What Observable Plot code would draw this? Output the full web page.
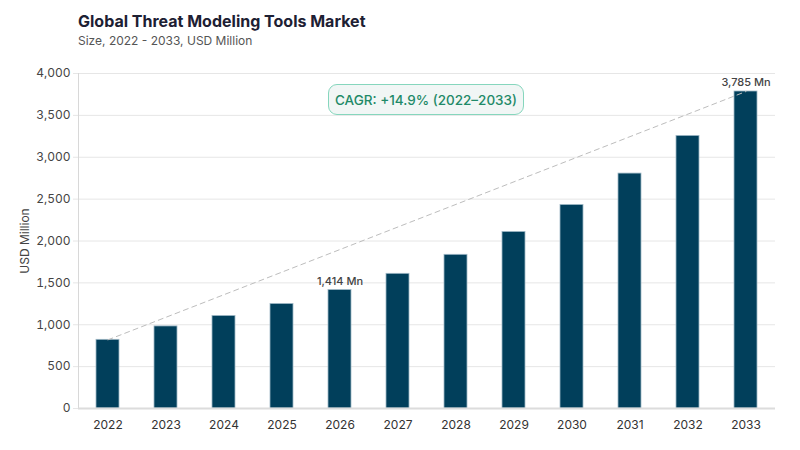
<!DOCTYPE html>
<html>
<head>
<meta charset="utf-8">
<script src="https://cdn.jsdelivr.net/npm/d3@7"></script>
<script src="https://cdn.jsdelivr.net/npm/@observablehq/plot@0.6"></script>
<style>
  html, body { margin: 0; padding: 0; background: #fff; }
  body { width: 800px; height: 450px; overflow: hidden; font-family: Inter, "Noto Sans", sans-serif; position: relative; }
  #title { position: absolute; left: 78px; top: 11px; font-size: 16px; font-weight: 700; color: #1d2033; }
  #subtitle { position: absolute; left: 78px; top: 33px; font-size: 12px; color: #555; }
  #chart { position: absolute; left: 0; top: 55px; }
  #cagr { position: absolute; left: 328px; top: 84px; width: 196px; height: 31px; box-sizing: border-box;
          border: 1.5px solid #86d6bd; border-radius: 9px; background: #f1f6f5; color: #1f8a68;
          font-size: 13.5px; font-weight: 500; display: flex; align-items: center; justify-content: center; }
</style>
</head>
<body>
<div id="title">Global Threat Modeling Tools Market</div>
<div id="subtitle">Size, 2022 - 2033, USD Million</div>
<div id="chart"></div>
<div id="cagr">CAGR: +14.9% (2022–2033)</div>
<script>
const years = ["2022","2023","2024","2025","2026","2027","2028","2029","2030","2031","2032","2033"];
const values = [820, 980, 1105, 1248, 1414, 1608, 1835, 2108, 2430, 2805, 3255, 3785];
const labeledYears = ["2026", "2033"];
const yTicks = [0, 500, 1000, 1500, 2000, 2500, 3000, 3500, 4000];

const data = years.map((y, i) => ({year: y, value: values[i]}));
const labeled = data.filter(d => labeledYears.includes(d.year));
const trend = [data[0], data[data.length - 1]];

const fmt = d3.format(",");

const chart = Plot.plot({
  width: 800,
  height: 395,
  marginLeft: 78,
  marginRight: 25,
  marginTop: 18,
  marginBottom: 42,
  style: { fontFamily: "Inter, 'Noto Sans', sans-serif", fontSize: "12px", color: "#333", background: "transparent" },
  x: { domain: years, paddingInner: 0.6, paddingOuter: 0.3, label: null },
  y: { domain: [0, 4000], label: null },
  marks: [
    Plot.gridY(yTicks, { stroke: "#e6e6e6", strokeOpacity: 1, strokeWidth: 1 }),
    Plot.frame({ anchor: "left", stroke: "#d8d8d8" }),
    Plot.axisY(yTicks, { tickFormat: fmt, tickSize: 5, stroke: "#e6e6e6", tickPadding: 3, fontSize: 12, fill: "#444",
      label: "USD Million", labelAnchor: "center", labelArrow: "none", labelOffset: 58 }),
    Plot.axisX({ tickSize: 0, tickPadding: 12, fontSize: 12, fill: "#333", label: null }),
    Plot.barY(data, { x: "year", y: "value", fill: "#013f5b", stroke: "#9fb8c6", strokeWidth: 0.8 }),
    Plot.ruleY([0], { stroke: "#dcdcdc", strokeWidth: 2 }),
    Plot.line(trend, { x: "year", y: "value", stroke: "#bdbdbd", strokeWidth: 1, strokeDasharray: "5,4" }),
    Plot.text(labeled, { x: "year", y: "value", text: d => fmt(d.value) + " Mn", dy: -9, fontSize: 11, fill: "#444", fontWeight: 500 })
  ]
});
document.getElementById("chart").appendChild(chart);
</script>
</body>
</html>
